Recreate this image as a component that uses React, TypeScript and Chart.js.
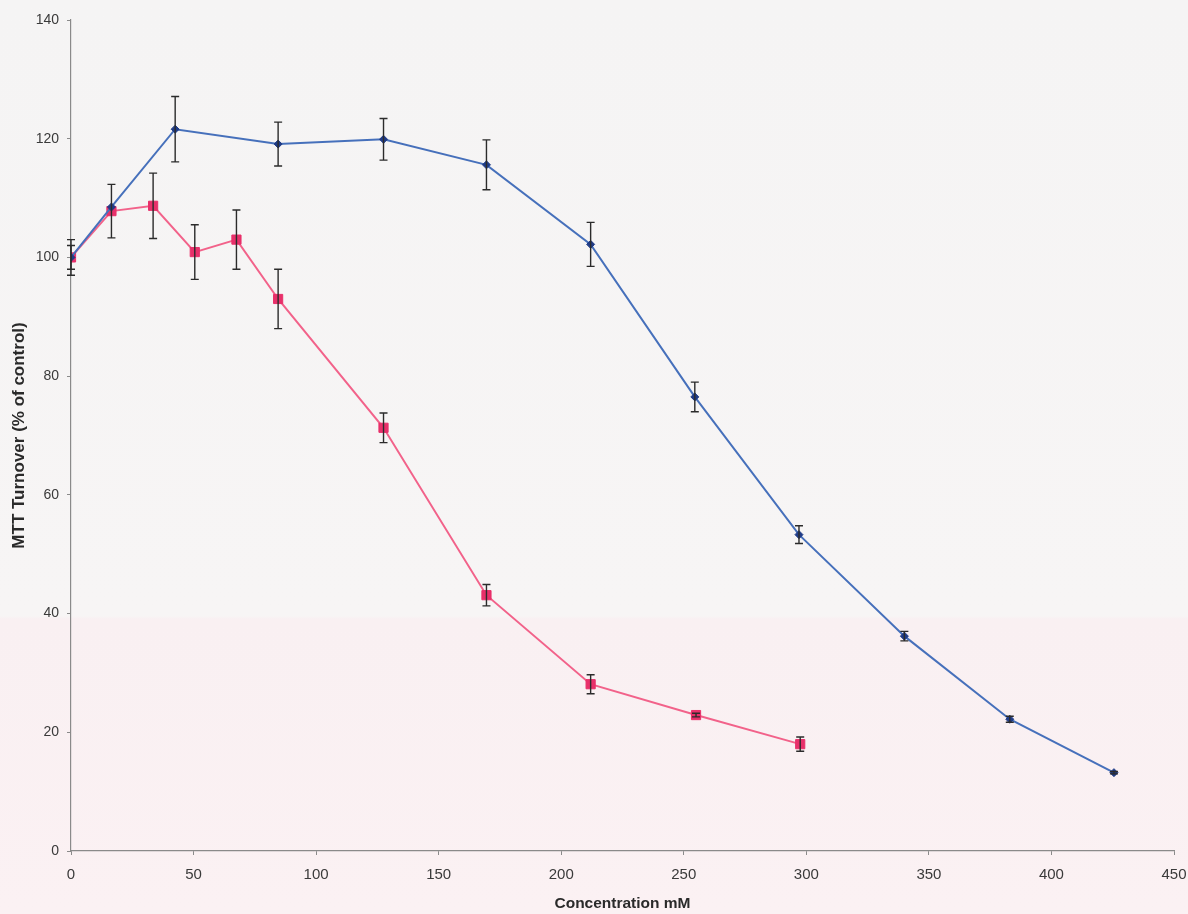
import React, { useEffect, useRef } from "react";
import { Chart, registerables } from "chart.js";

Chart.register(...registerables);

const xTicks = [0, 50, 100, 150, 200, 250, 300, 350, 400, 450];
const yTicks = [0, 20, 40, 60, 80, 100, 120, 140];

const blueX = [0, 16.5, 42.5, 84.5, 127.5, 169.5, 212, 254.5, 297, 340, 383, 425.5];
const blueY = [100, 108.5, 121.6, 119.1, 119.9, 115.6, 102.2, 76.5, 53.3, 36.2, 22.2, 13.2];
const blueErr = [3, 0, 5.5, 3.7, 3.5, 4.2, 3.7, 2.5, 1.5, 0.8, 0.5, 0.2];

const pinkX = [0, 16.5, 33.5, 50.5, 67.5, 84.5, 127.5, 169.5, 212, 255, 297.5];
const pinkY = [100, 107.8, 108.7, 100.9, 103, 93, 71.3, 43.1, 28.1, 22.9, 18];
const pinkErr = [2, 4.5, 5.5, 4.6, 5, 5, 2.5, 1.8, 1.6, 0.3, 1.2];

const xTitle = "Concentration mM";
const yTitle = "MTT Turnover (% of control)";

const errorBarPlugin = {
  id: "errorBars",
  afterDatasetsDraw(chart: any) {
    const { ctx, scales } = chart;
    const xs = scales.x;
    const ys = scales.y;
    const errs = [blueErr, pinkErr];
    ctx.save();
    ctx.strokeStyle = "#2b2b2b";
    ctx.lineWidth = 1.4;
    chart.data.datasets.forEach((ds: any, i: number) => {
      ds.data.forEach((p: any, j: number) => {
        const e = errs[i][j];
        if (!e) return;
        const px = xs.getPixelForValue(p.x);
        const top = ys.getPixelForValue(p.y + e);
        const bot = ys.getPixelForValue(p.y - e);
        ctx.beginPath();
        ctx.moveTo(px, top);
        ctx.lineTo(px, bot);
        ctx.moveTo(px - 4, top);
        ctx.lineTo(px + 4, top);
        ctx.moveTo(px - 4, bot);
        ctx.lineTo(px + 4, bot);
        ctx.stroke();
      });
    });
    ctx.restore();
  },
};

export default function App() {
  const ref = useRef<HTMLCanvasElement>(null);
  useEffect(() => {
    if (!ref.current) return;
    const chart = new Chart(ref.current, {
      type: "line",
      data: {
        datasets: [
          {
            data: blueX.map((x, i) => ({ x, y: blueY[i] })),
            borderColor: "#4670bb",
            borderWidth: 2,
            pointStyle: "rectRot",
            pointRadius: 4,
            pointBackgroundColor: "#1f3b86",
            pointBorderColor: "#1f3b86",
            pointBorderWidth: 1,
            tension: 0,
          },
          {
            data: pinkX.map((x, i) => ({ x, y: pinkY[i] })),
            borderColor: "#f2628a",
            borderWidth: 2,
            pointStyle: "rect",
            pointRadius: 6.5,
            pointBackgroundColor: "#e8306a",
            pointBorderColor: "#e8306a",
            pointBorderWidth: 1,
            tension: 0,
          },
        ],
      },
      options: {
        responsive: false,
        animation: false,
        layout: { padding: { top: 20, right: 14, left: 0, bottom: 0 } },
        plugins: { legend: { display: false }, tooltip: { enabled: false } },
        scales: {
          x: {
            type: "linear",
            min: 0,
            max: 450,
            afterBuildTicks: (s: any) => {
              s.ticks = xTicks.map((v) => ({ value: v }));
            },
            afterFit: (s: any) => {
              s.height = 63;
              s.paddingLeft = 0;
              s.paddingRight = 0;
            },
            grid: { drawOnChartArea: false, tickLength: 4, color: "#8a8a8a", tickColor: "#8a8a8a" },
            border: { color: "#8a8a8a", width: 1.2 },
            ticks: {
              color: "#3a3a3a",
              padding: 11,
              maxRotation: 0,
              autoSkip: false,
              font: { family: "'Liberation Sans', Arial, sans-serif", size: 15 },
            },
            title: {
              display: true,
              text: xTitle,
              color: "#2a2a2a",
              padding: { top: 4, bottom: 1 },
              font: { family: "'Liberation Sans', Arial, sans-serif", size: 15.5, weight: "bold" },
            },
          },
          y: {
            min: 0,
            max: 140,
            afterBuildTicks: (s: any) => {
              s.ticks = yTicks.map((v) => ({ value: v }));
            },
            afterFit: (s: any) => {
              s.width = 71;
              s.paddingTop = 0;
              s.paddingBottom = 0;
            },
            grid: { drawOnChartArea: false, tickLength: 4, color: "#8a8a8a", tickColor: "#8a8a8a" },
            border: { color: "#8a8a8a", width: 1.2 },
            ticks: {
              color: "#3a3a3a",
              padding: 8,
              autoSkip: false,
              font: { family: "'Liberation Sans', Arial, sans-serif", size: 14 },
            },
            title: {
              display: true,
              text: yTitle,
              color: "#2a2a2a",
              padding: { top: 9, bottom: 0 },
              font: { family: "'Liberation Sans', Arial, sans-serif", size: 17, weight: "bold" },
            },
          },
        },
      },
      plugins: [errorBarPlugin],
    });
    return () => chart.destroy();
  }, []);

  return (
    <div
      style={{
        position: "fixed",
        left: 0,
        top: 0,
        width: 1188,
        height: 914,
        overflow: "hidden",
        background:
          "linear-gradient(to bottom, #f5f4f4 0px, #f7f5f5 616px, #f9f0f2 619px, #fbf1f3 914px)",
      }}
    >
      <canvas ref={ref} width={1188} height={914} style={{ display: "block" }} />
    </div>
  );
}
